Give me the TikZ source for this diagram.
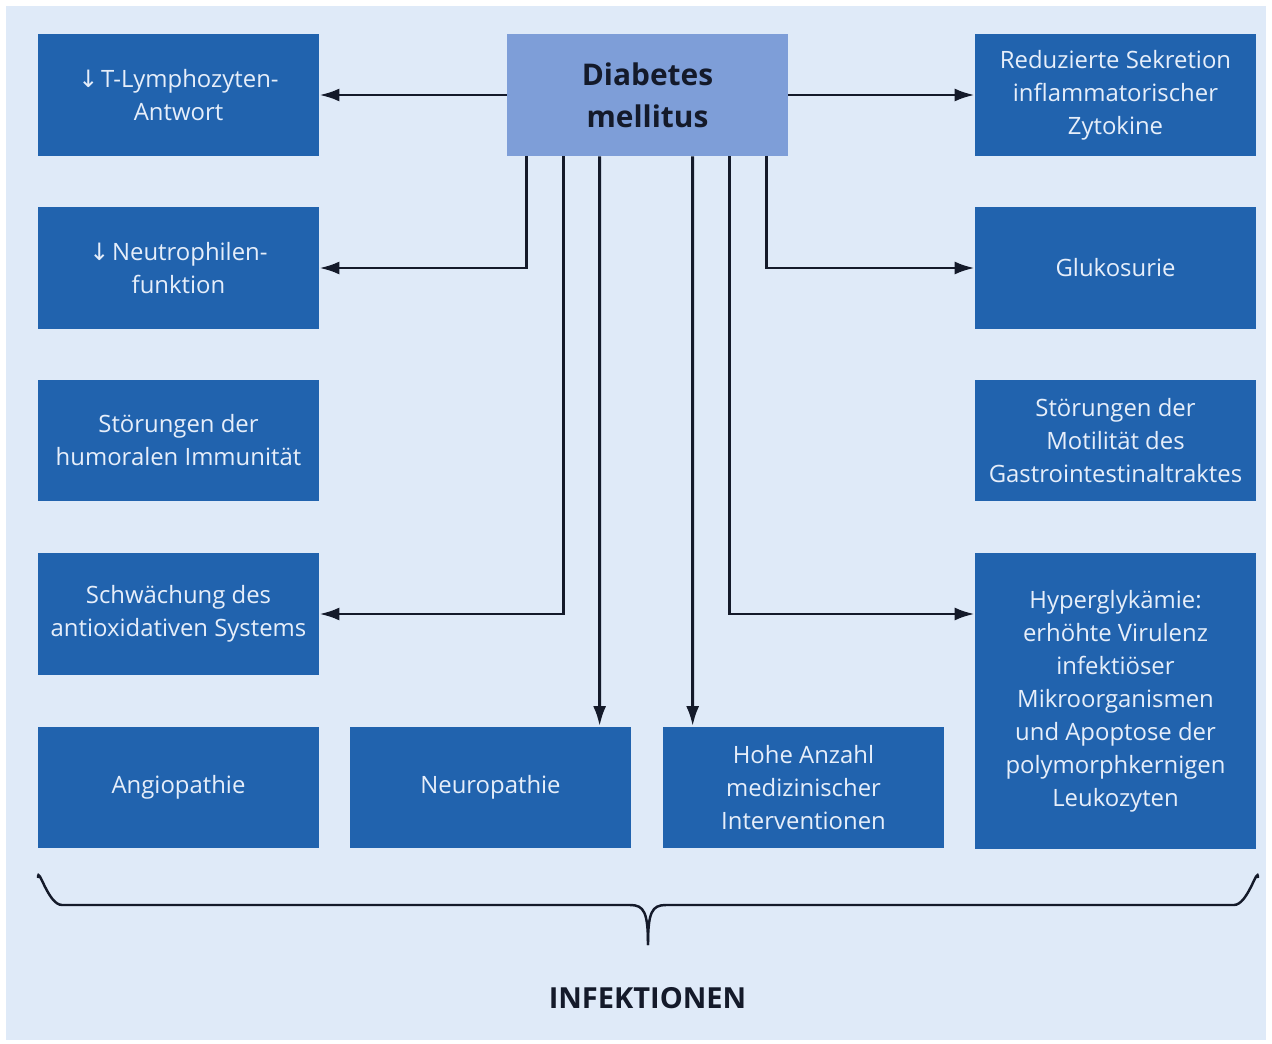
\documentclass[tikz,border=0pt]{standalone}
\usepackage{fontspec}
\setmainfont{Open Sans}
\newfontfamily\arrowfont{DejaVu Sans}
\usetikzlibrary{arrows.meta}
\definecolor{boxblue}{HTML}{2163AE}
\definecolor{panel}{HTML}{DFEAF8}
\definecolor{dmblue}{HTML}{7E9ED8}
\definecolor{txtlight}{HTML}{E6EEFA}
\definecolor{ink}{HTML}{141A2A}
\newcommand{\dn}{{\arrowfont\char"2193}\kern1.5pt}
\begin{document}
\begin{tikzpicture}[x=0.02cm,y=-0.02cm,
  box/.style={fill=boxblue,text=txtlight,minimum width=5.62cm,minimum height=2.44cm,
    align=center,inner sep=0pt,font=\fontsize{13.6}{18.8}\selectfont},
  conn/.style={-{Latex[length=4mm,width=2.6mm]},line width=1.7pt,draw=ink}]
% panel
\useasboundingbox (0,0) rectangle (1272,1044);
\fill[white] (0,0) rectangle (1272,1044);
\fill[panel] (6,6) rectangle (1266,1040);
% boxes
\node[box,fill=dmblue,text=ink,font=\bfseries\fontsize{17}{23.8}\selectfont] (dm) at (647.5,95) {Diabetes\\mellitus};
\node[box] (tlym) at (178.5,95) {\dn T-Lymphozyten-\\Antwort};
\node[box] (neutro) at (178.5,268) {\dn Neutrophilen-\\funktion};
\node[box] (humor) at (178.5,440.5) {Störungen der\\humoralen Immunität};
\node[box] (antiox) at (178.5,614) {Schwächung des\\antioxidativen Systems};
\node[box] (angio) at (178.5,787.5) {Angiopathie};
\node[box] (neuro) at (490.5,787.5) {Neuropathie};
\node[box] (interv) at (803.5,787.5) {Hohe Anzahl\\medizinischer\\Interventionen};
\node[box] (zyto) at (1115.5,95) {Reduzierte Sekretion\\inflammatorischer\\Zytokine};
\node[box] (gluko) at (1115.5,268) {Glukosurie};
\node[box] (motil) at (1115.5,440.5) {Störungen der\\Motilität des\\Gastrointestinaltraktes};
\node[box,minimum height=5.92cm] (hyper) at (1115.5,701) {Hyperglykämie:\\erhöhte Virulenz\\infektiöser\\Mikroorganismen\\und Apoptose der\\polymorphkernigen\\Leukozyten};
% connectors
\draw[conn] (dm.west) -- (tlym.east);
\draw[conn] (dm.east) -- (zyto.west);
\draw[conn] ([xshift=0.4cm]dm.south west) |- (neutro.east);
\draw[conn] ([xshift=1.14cm]dm.south west) |- (antiox.east);
\draw[conn] ([xshift=1.86cm]dm.south west) -- ([xshift=5cm]neuro.north west);
\draw[conn] ([xshift=3.72cm]dm.south west) -- ([xshift=0.6cm]interv.north west);
\draw[conn] ([xshift=4.46cm]dm.south west) |- (hyper.west |- antiox.east);
\draw[conn] ([xshift=5.2cm]dm.south west) |- (gluko.west);
% brace
\draw[ink,line width=1.4pt] (38,878) to[out=90,in=180] (62,905) -- (630,905)
  .. controls (644,905) and (648,912) .. (648,945);
\draw[ink,line width=1.4pt] (1258,878) to[out=90,in=0] (1234,905) -- (666,905)
  .. controls (652,905) and (648,912) .. (648,945);
\node[text=ink,font=\bfseries\fontsize{16.5}{18}\selectfont] (infekt) at (647.5,998) {INFEKTIONEN};
\end{tikzpicture}
\end{document}
